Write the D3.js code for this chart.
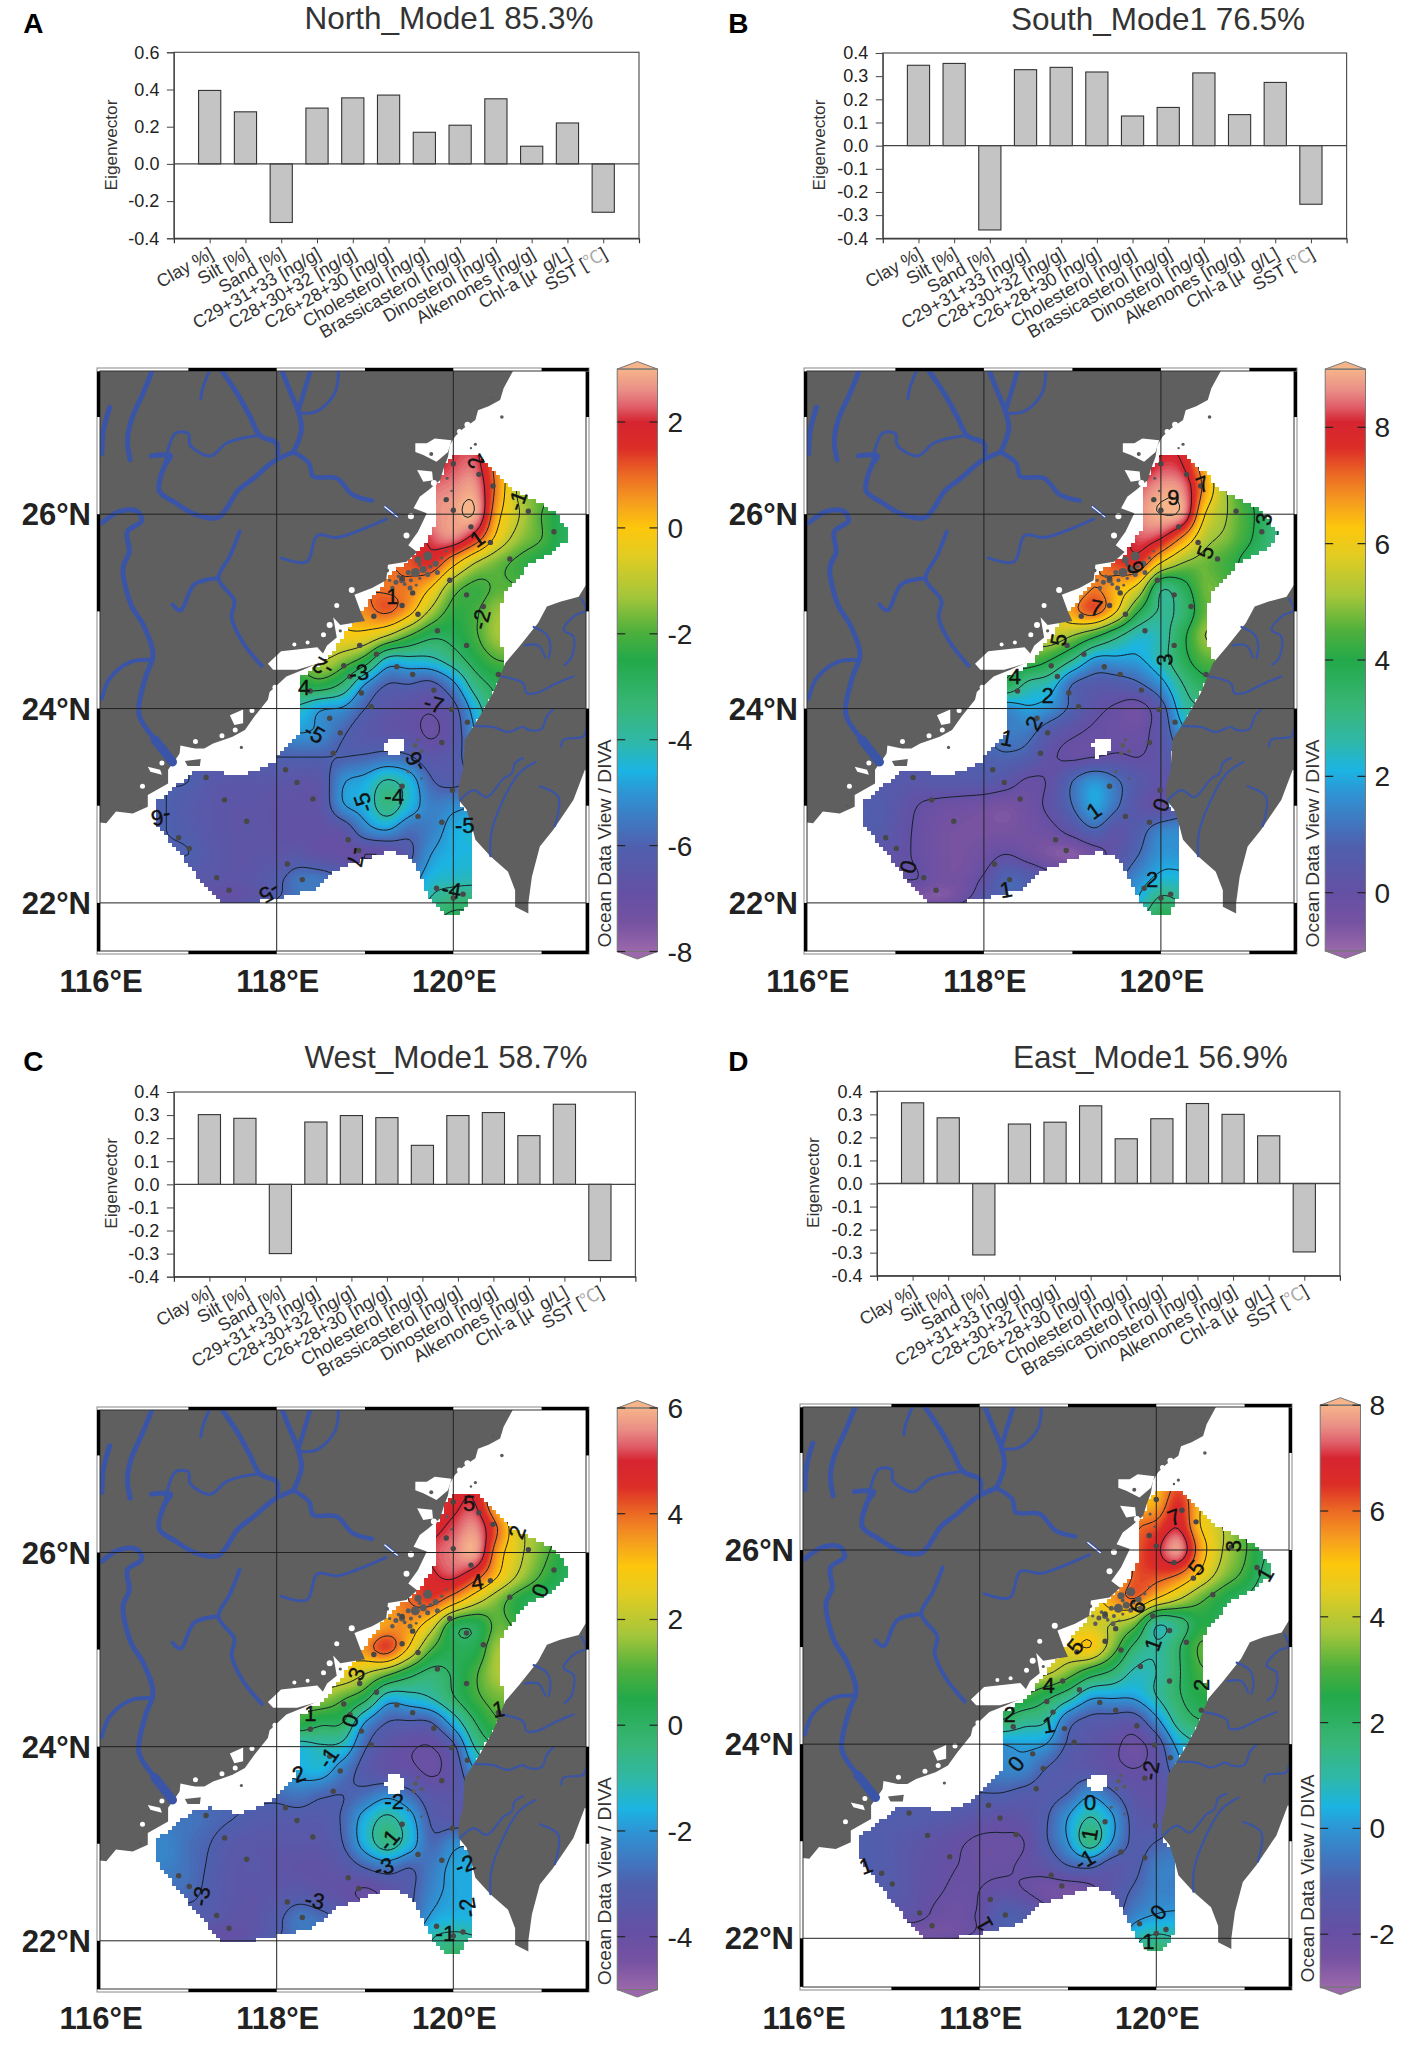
<!DOCTYPE html>
<html><head><meta charset="utf-8">
<script src="https://cdn.jsdelivr.net/npm/d3@7"></script>
<style>html,body{margin:0;background:#fff}svg{display:block}text{font-family:"Liberation Sans",Arial,sans-serif}</style>
</head><body><svg id="c" width="1417" height="2059"></svg>
<script>
// ---------- bar data ----------
const categories=["Clay %]","Silt [%]","Sand [%]","C29+31+33 [ng/g]","C28+30+32 [ng/g]","C26+28+30 [ng/g]","Cholesterol [ng/g]","Brassicasterol [ng/g]","Dinosterol [ng/g]","Alkenones [ng/g]","Chl-a [µ\u00a0\u00a0g/L]","SST ["];
const barsNorth=[0.395,0.28,-0.315,0.30,0.355,0.37,0.17,0.208,0.35,0.095,0.22,-0.26];
const barsSouth=[0.347,0.355,-0.364,0.328,0.338,0.318,0.128,0.165,0.314,0.134,0.273,-0.253];
const barsWest=[0.302,0.286,-0.30,0.27,0.298,0.289,0.169,0.298,0.311,0.211,0.347,-0.33];
const barsEast=[0.35,0.285,-0.31,0.258,0.266,0.337,0.194,0.281,0.347,0.30,0.207,-0.297];
const ticksNorth=[0.6,0.4,0.2,0,-0.2,-0.4];
const ticksOther=[0.4,0.3,0.2,0.1,0,-0.1,-0.2,-0.3,-0.4];
// ---------- field data: [first column index, values...] per row; lat 26.75→21.75, lon 116.5+0.25*i ----------
const fieldNorth=[
[13,1.8,2,2,0.5,-1],
[13,1.8,2.2,2.3,0.6,-1,-1.6,-2.4,-2.8],
[12,1.2,2.3,2.6,2.7,0.7,-1.2,-1.7,-2.4,-2.8],
[12,1.5,2.5,2.8,2.9,0.3,-1,-2,-2.8,-3],
[12,1.3,2.2,2.5,1.5,-0.3,-1.4,-2,-2.8,-3],
[11,1,1.2,1.6,0.3,-1,-1.7,-2.2,-2.6,-2.8,-3],
[9,0.8,1,0.9,0.8,0,-1.6,-2.2,-1.9,-2,-2.2],
[8,-0.2,0.2,0.7,1.1,0.3,-1.2,-2.3,-2.1,-1.4,-1.5],
[7,-0.8,-0.5,-0.2,-0.3,-1,-2,-2.8,-2.7,-2.1,-1.3,-1.4],
[7,-1.8,-1,-1.5,-2.4,-4.3,-4.3,-4.2,-3.5,-2.6,-2],
[7,-2.6,-2.4,-3.2,-5,-6,-6,-6.2,-5.2,-3.5,-2.8],
[7,-4.2,-4.9,-5.1,-6,-6.5,-6.7,-6.9,-6.3,-4.5,-3],
[6,-5.3,-5,-5.2,-5.9,-6.4,-6.6,-6.7,-7.1,-6.5,-5,-3.5],
[5,-6,-6,-6,-6,-6,-5.9,-5.7,-5.9,-6.5,-6.3,-5.5],
[2,-6,-6.4,-6.5,-6.5,-6.5,-6.6,-6.5,-5.1,-4.7,-3.9,-4.5,-5.9,-6.2,-5.8],
[1,-6,-6.3,-6.5,-6.6,-6.6,-6.7,-6.7,-6.6,-5.1,-4.6,-3.5,-4.5,-5.4,-5.2,-5],
[1,-6,-6.2,-6.5,-6.6,-6.6,-6.7,-6.8,-6.8,-6.6,-5.4,-5,-5.7,-5.4,-4.7,-4.5],
[2,-6,-6.4,-6.6,-6.6,-6.6,-6.5,-6.8,-6.9,-7,-6.9,-6.2,-5,-4.6,-4.5],
[3,-6.5,-6.6,-6.5,-6.2,-5.6,-5.6,-6,-6.2,-6,-5.5,-4.5,-4.3,-4.2],
[4,-6.6,-6.3,-5.8,-5.4,-5.4,-5.5,-5.6,-5.5,-5,-3.8,-3.3,-3.3],
[13,-3,-2.5,-2.5]];
const fieldSouth=[
[13,7.5,7.8,7.8,6.5,5],
[13,7.6,8.2,8,6.5,5,4.2,3.5,3],
[12,7.5,8.3,8.8,8.6,6.7,5,4,3.5,3],
[12,7.8,8.6,9,8.7,6,5,4.2,3.3,2.7],
[12,7.6,8.3,8,6.8,5.3,4.8,4.1,3.2,2.6],
[11,7,7.5,7.6,6,5,4.7,4.3,3.7,3.2,3],
[9,5.8,6.3,7,6.5,5.7,3.2,3.7,4.7,4.5,4.3],
[8,5,5.5,6.7,7.3,6,4,2.9,3.3,4.6,4.6],
[7,4.8,5.1,5.5,5,4.2,3.2,2.4,2.6,3.8,5,5],
[7,4.2,4.5,4,3,1.8,1.8,1.9,2.6,3.7,4.5],
[7,3.8,2.8,2.4,1,0.6,0.6,0.9,1.7,3,3.7],
[7,1.5,1.9,1.6,0.8,0.2,-0.1,-0.3,0.6,2.5,3],
[6,1,1.3,1.2,0.5,0.1,-0.1,-0.2,-0.2,0.4,1.8,2.5],
[5,0.7,0.8,0.9,0.7,0.1,-0.1,0,0.1,0,0.3,1,1.5],
[2,0.5,0.4,0.5,0.5,0.5,0.3,-0.1,0.1,1,1.7,1.1,0.5,0.2,0.5],
[1,0.7,0.4,0,-0.2,-0.3,-0.4,-0.5,-0.3,0.2,1,1.9,1.1,0.3,0.1,0.6],
[1,0.6,0.3,-0.1,-0.4,-0.5,-0.5,-0.5,-0.4,-0.2,0.3,0.9,0.3,0.7,1.4,1.5],
[2,0.2,-0.1,-0.4,-0.5,-0.3,0,-0.3,-0.6,-0.7,-0.3,0.3,1,1.7,1.7],
[3,0,-0.4,-0.4,0.1,0.9,0.7,0.3,0.2,0.3,0.8,1.6,2.2,2.2],
[4,-0.4,0,0.8,1.1,1,0.8,0.7,0.8,1.2,2.2,3.3,3],
[13,3.2,4,4]];
const fieldWest=[
[13,4.2,4.6,4.8,3,1.8],
[13,4.3,4.8,5,3,1.8,1.3,0.8,0.3],
[12,4,4.7,5.2,5.6,4,2.2,1.5,0.8,0.3],
[12,4.2,5.1,5.5,5.8,3.5,2.2,1.3,0.5,0],
[12,4,4.8,5.1,4.3,3,1.8,0.9,0.2,0],
[11,3.5,4,4.3,3.4,2.3,1.4,0.5,0.1,0,0],
[9,2.6,3,3.5,3.5,2.4,0.4,0.2,1.2,0.8,0.6],
[8,2,3,3.6,4.3,2.8,1,0.3,0.4,1.7,1.6],
[7,2,2.4,2.6,2,1.2,0.3,-0.3,0.1,0.9,1.8,1.8],
[7,1.3,1.6,1.1,0.3,-1.5,-1.4,-1,-0.1,0.8,1.3],
[7,0.7,0.2,0,-2,-3,-3.1,-3,-1.6,0,0.9],
[7,-1.4,-1.1,-1.3,-2.9,-3.6,-3.9,-4,-3.2,-0.9,0],
[6,-2,-1.7,-1.6,-2.5,-3.3,-3.7,-3.8,-4.1,-3.6,-2,-1],
[5,-2.8,-2.8,-2.6,-2.9,-3,-2.7,-2.2,-2.7,-3.5,-3.5,-3],
[2,-2.6,-2.8,-3,-3.2,-3.3,-3.3,-3.3,-2.9,-1.6,-0.8,-1.6,-3.1,-3.4,-3.2],
[1,-2.3,-2.7,-3,-3.4,-3.5,-3.5,-3.5,-3.5,-3,-1.6,-0.6,-1.5,-2.8,-2.2,-2],
[1,-2.4,-2.7,-3.1,-3.5,-3.5,-3.6,-3.7,-3.7,-3.5,-3,-2.6,-3,-2.5,-1.8,-1.7],
[2,-2.8,-3.2,-3.5,-3.6,-3.5,-3.4,-3.6,-3.8,-4.1,-3.8,-3.2,-2.3,-1.8,-1.7],
[3,-3.3,-3.6,-3.6,-3.2,-2.6,-2.8,-3.2,-3.5,-3.4,-3,-1.9,-1.6,-1.6],
[4,-3.7,-3.3,-2.9,-2.4,-2.4,-2.6,-2.8,-2.8,-2.3,-1,-0.6,-0.8],
[13,-0.8,0.3,0.2]];
const fieldEast=[
[13,4.8,5,6,5,3.5],
[13,5,5.3,6.5,5,3.5,3,2.2,1.4],
[12,4.5,5.8,6.2,6.9,5,4,3,2.2,1.4],
[12,5,6,6.8,7.7,5.5,4,3.1,2,1.2],
[12,4.6,6.1,6.3,6,4.8,3.6,2.8,1.7,1],
[11,4.5,5.5,6,5,4.1,3.2,2.5,2,1.5,1.2],
[9,4,4.2,4.3,4,3.4,1.2,1.6,2.5,2.3,2],
[8,3.5,4.5,4.6,5,3.5,1.8,1.1,1.9,3.1,3],
[7,3.2,4,4.2,3.5,2.6,1.9,0.9,1,1.9,2.9,2.9],
[7,2.6,2.9,2.3,1.5,0.3,0.2,0.2,1,1.9,2.5],
[7,2,1.4,1.1,-0.6,-1.2,-1.3,-1.4,-0.2,1.4,2],
[7,0,0.2,0,-1.1,-1.5,-1.8,-2.2,-1.5,0.3,1],
[6,-0.6,-0.3,-0.3,-1,-1.4,-1.5,-1.8,-2,-1.7,-0.4,0.4],
[5,-1,-1,-1,-1.2,-1.3,-1,-0.2,-0.9,-1.6,-1.7,-1.3],
[2,-1.1,-1.2,-1.3,-1.4,-1.6,-1.7,-1.6,-1.1,0,1,0.1,-1.3,-1.5,-1.2],
[1,-1.1,-1.3,-1.5,-1.7,-1.9,-2.1,-2.1,-2,-1.1,0,1.5,0,-1.2,-1,-0.7],
[1,-1.1,-1.3,-1.6,-1.8,-2,-2.1,-2.1,-1.9,-1.6,-1,-0.8,-1.4,-1.2,-0.5,-0.4],
[2,-1.3,-1.6,-1.9,-2.1,-2,-1.8,-2,-2.3,-2.4,-2.2,-1.5,-0.9,-0.4,-0.4],
[3,-1.7,-2.1,-2.2,-1.9,-1.1,-1.2,-1.7,-2,-1.9,-1.4,-0.4,0,0.1],
[4,-2.2,-2,-1.6,-0.9,-0.9,-1.1,-1.3,-1.3,-0.8,0.7,1.2,1],
[13,1.2,2.2,2]];
// ---------- contour labels: lon, lat, text, rotation ----------
const labelsNorth=[[120.25,26.54,"2",-120],[120.72,26.14,"-1",-70],[120.27,25.75,"1",-35],[119.31,25.16,"1",0],[120.31,24.92,"-2",-75],[118.93,24.37,"-3",-10],[118.52,24.42,"-2",-150],[118.31,24.22,"4",0],[118.43,23.75,"-5",30],[119.78,24.05,"-7",15],[119.57,23.45,"-6",-120],[119.33,23.10,"-4",0],[118.98,23.03,"-5",-110],[116.69,22.88,"-6",170],[118.90,22.47,"-7",100],[117.92,22.10,"-5",150],[120.13,22.80,"-5",0],[119.98,22.14,"-4",10]];
const labelsSouth=[[120.14,26.18,"9",0],[120.50,25.61,"5",-70],[121.16,25.95,"3",-80],[119.71,25.45,"6",-110],[119.27,25.04,"7",10],[118.84,24.71,"5",-80],[118.35,24.33,"4",0],[118.72,24.14,"2",0],[118.56,23.85,"2",-60],[118.26,23.70,"1",10],[120.04,24.50,"3",-95],[119.24,22.95,"1",-35],[120.0,23.01,"0",-70],[117.15,22.37,"0",105],[118.25,22.14,"1",-10],[119.90,22.24,"2",0],[120.47,26.31,"7",-20]];
const labelsWest=[[120.18,26.51,"5",0],[120.72,26.21,"2",-70],[120.27,25.70,"4",-10],[120.98,25.61,"0",-70],[118.90,24.75,"3",-70],[120.51,24.39,"1",-10],[118.38,24.35,"1",0],[118.83,24.27,"0",-70],[118.58,23.89,"-1",-55],[118.25,23.72,"2",-20],[119.33,23.44,"-2",0],[119.27,23.04,"-1",-50],[119.21,22.76,"-3",-20],[118.43,22.42,"-3",10],[117.14,22.46,"-3",-80],[120.13,22.79,"-2",-20],[120.16,22.34,"-2",-100],[119.91,22.08,"-1",0]];
const labelsEast=[[120.20,26.34,"7",-20],[120.87,26.04,"3",-90],[120.45,25.82,"5",-50],[121.23,25.75,"1",-60],[119.78,25.42,"6",-60],[119.08,25.01,"5",-50],[118.78,24.61,"4",0],[120.51,24.61,"2",-90],[118.34,24.31,"2",0],[118.78,24.20,"1",-10],[119.96,25.03,"1",-70],[118.41,23.80,"0",-50],[119.93,23.73,"-2",-80],[119.25,23.40,"0",0],[119.24,23.07,"1",-80],[119.19,22.81,"-1",-30],[120.02,22.27,"0",-50],[119.91,21.97,"1",0],[116.71,22.75,"1",-20],[118.05,22.14,"1",-120]];
// ---------- stations ----------
const stations=[[120.00,26.52],[120.29,26.41],[120.45,26.29],[119.92,26.15],[120.00,26.04],[120.20,25.87],[120.42,25.71],[120.85,26.03],[121.14,25.82],[120.64,25.54],[119.96,25.32],[120.15,25.17],[120.34,25.05],[119.60,24.97],[119.42,25.06],[119.54,25.19],[119.42,25.34],[119.10,24.95],[119.82,24.80],[120.15,24.65],[118.94,24.65],[119.13,24.56],[118.76,24.44],[118.83,24.33],[119.36,24.43],[119.54,24.35],[119.78,24.19],[120.51,24.35],[118.38,24.18],[118.96,24.16],[119.07,24.02],[119.98,23.99],[120.16,23.86],[118.60,23.90],[118.72,23.75],[119.87,23.65],[118.64,23.54],[118.10,23.37],[118.23,23.24],[118.41,23.07],[117.20,23.29],[117.41,23.06],[117.66,22.84],[116.89,22.67],[117.01,22.56],[117.32,22.26],[117.46,22.13],[118.12,22.40],[118.29,22.24],[118.81,22.65],[118.93,22.54],[119.60,22.89],[119.87,22.83],[119.99,23.16],[119.42,23.20],[119.81,22.15],[120.11,22.09],[120.00,22.05]];
// ---------- geography (lon, lat) ----------
const coastChina=[[120.68,27.6],[120.68,27.48],[120.57,27.295],[120.53,27.175],[120.40,27.11],[120.28,27.07],[120.25,26.97],[120.11,26.88],[120.02,26.80],[119.96,26.71],[119.94,26.59],[119.89,26.47],[119.85,26.35],[119.72,26.25],[119.62,26.18],[119.55,26.06],[119.70,26.01],[119.60,25.82],[119.49,25.68],[119.59,25.61],[119.47,25.51],[119.26,25.48],[119.24,25.32],[119.08,25.24],[118.88,25.17],[118.95,25.0],[119.0,24.9],[118.72,24.86],[118.64,24.94],[118.68,24.73],[118.57,24.65],[118.47,24.47],[118.30,24.40],[118.11,24.33],[117.92,24.17],[117.90,24.09],[117.75,23.92],[117.64,23.78],[117.50,23.71],[117.28,23.64],[117.18,23.59],[116.94,23.59],[116.88,23.51],[116.77,23.37],[116.77,23.23],[116.54,23.11],[116.54,22.99],[116.37,22.92],[116.18,22.94],[116.07,22.82],[115.9,22.84],[115.9,27.6]];
const coastTaiwan=[[121.50,25.27],[121.42,25.15],[121.21,25.10],[121.06,25.05],[120.96,24.88],[120.75,24.64],[120.59,24.47],[120.45,24.16],[120.30,23.92],[120.13,23.68],[120.11,23.37],[120.06,23.20],[120.06,23.06],[120.15,22.96],[120.21,22.79],[120.25,22.65],[120.42,22.48],[120.62,22.32],[120.70,22.13],[120.70,21.96],[120.85,21.89],[120.85,22.0],[120.89,22.27],[120.98,22.58],[121.13,22.75],[121.36,23.06],[121.49,23.37],[121.6,23.3],[121.6,25.3]];
const whiteBays=[
[[119.57,26.73],[119.70,26.73],[119.79,26.78],[119.98,26.76],[119.94,26.64],[119.81,26.54],[119.66,26.61],[119.57,26.64]],
[[119.59,26.455],[119.76,26.44],[119.77,26.35],[119.66,26.335]],
[[117.90,24.46],[118.05,24.59],[118.46,24.63],[118.55,24.54],[118.46,24.46],[118.23,24.40],[117.96,24.40]],
[[117.47,23.93],[117.62,23.99],[117.62,23.85],[117.52,23.83]],
[[116.91,23.62],[117.07,23.59],[116.99,23.49],[116.90,23.53]],
[[116.54,23.40],[116.68,23.37],[116.70,23.32],[116.57,23.35]]];
const islands=[[[116.96,23.46],[117.14,23.48],[117.13,23.41],[116.99,23.41]]];
const specks=[[119.60,25.53,3.5],[119.71,25.57,4.5],[119.80,25.49,3],[119.66,25.43,3.5],[119.57,25.40,4.5],[119.42,25.32,3],[119.51,25.24,2.5],[119.35,25.30,2.5],[119.49,25.40,2.5],[119.71,25.38,2.5],[119.82,25.40,2.5],[119.31,25.24,2.2],[119.91,26.14,1.6],[119.93,26.37,1.6],[119.98,26.24,1.2],[119.57,23.62,2.4],[119.64,23.56,2],[119.55,23.54,2],[119.60,23.68,1.6],[119.49,23.35,1.6],[119.64,23.28,1.2],
[119.62,25.48,2],[119.74,25.46,2],[119.52,25.32,2],[119.45,25.28,1.8],[119.38,25.36,1.8],[119.62,25.34,1.6],[119.28,25.32,1.6],[119.87,25.55,1.6],[119.92,25.62,1.2],[119.58,25.27,1.4],[120.45,27.2,1.4],[120.55,27.0,1.8],[120.25,26.72,1.6],[120.2,26.68,1.2],[119.75,26.62,2],[119.25,25.42,2],[118.72,24.8,1.6],[117.6,23.6,1.6],[116.45,23.0,1.4]];
const whiteSpecks=[[120.33,26.98,3],[120.16,26.92,3],[120.07,26.85,2.5],[119.78,26.32,3],[119.52,25.98,3],[119.47,25.78,3],[118.85,25.22,3],[118.68,25.06,2.5],[118.60,24.86,3],[118.53,24.76,2.5],[117.98,24.22,2.5],[117.72,23.98,2.5],[117.53,23.78,2.5],[117.38,23.72,2.5],[117.08,23.66,2.5],[116.70,23.44,2.5],[116.48,23.2,2.5],[118.2,24.66,2],[118.35,24.68,2]];
const fieldOutline=[[120.00,26.59],[120.29,26.59],[120.47,26.45],[120.58,26.35],[120.69,26.24],[120.83,26.18],[121.14,26.03],[121.32,25.82],[121.30,25.74],[121.14,25.61],[120.87,25.49],[120.58,25.19],[120.54,25.07],[120.54,24.65],[120.59,24.52],[120.59,24.40],[120.51,24.27],[120.34,23.98],[120.20,23.73],[120.11,23.47],[120.09,22.97],[120.20,22.93],[120.20,22.05],[120.07,21.86],[119.91,21.86],[119.75,22.03],[119.53,22.45],[119.31,22.53],[119.13,22.49],[118.68,22.34],[118.41,22.13],[118.01,22.05],[117.70,22.00],[117.38,22.00],[117.11,22.26],[116.62,22.84],[116.62,23.03],[117.07,23.35],[117.25,23.37],[117.56,23.31],[117.74,23.35],[117.96,23.45],[118.25,23.75],[118.25,24.31],[118.55,24.48],[118.68,24.65],[118.99,25.03],[119.31,25.40],[119.57,25.57],[119.71,25.74],[119.82,25.91],[119.82,26.29],[119.91,26.50]];
const fieldHole=[[119.22,23.62],[119.27,23.70],[119.40,23.70],[119.45,23.62],[119.40,23.52],[119.27,23.50]];
const rivers=[
[[116.60,27.5],[116.49,27.25],[116.35,26.96],[116.31,26.75],[116.34,26.56]],
[[117.36,27.5],[117.56,27.23],[117.70,27.00],[117.81,26.81],[118.0,26.73],[118.01,26.62]],
[[118.05,27.5],[118.14,27.29],[118.25,27.04],[118.28,26.87],[118.19,26.64]],
[[118.39,27.5],[118.25,27.08]],
[[118.19,26.64],[117.96,26.54],[117.74,26.37],[117.56,26.24],[117.34,25.97],[117.07,26.0],[116.85,26.12],[116.67,26.24],[116.73,26.50],[116.80,26.60],[116.58,26.60]],
[[118.19,26.64],[118.37,26.52],[118.41,26.39],[118.68,26.37],[118.86,26.20],[119.08,26.14]],
[[116.11,27.10],[116.04,26.87],[116.02,26.62]],
[[116.02,25.91],[116.22,26.03],[116.42,26.03],[116.47,25.93],[116.31,25.82],[116.33,25.61],[116.26,25.45],[116.35,25.07],[116.49,24.86],[116.60,24.56],[116.51,24.31],[116.44,23.94],[116.62,23.68],[116.82,23.45]],
[[116.02,24.10],[116.11,24.31],[116.35,24.48],[116.60,24.50]],
[[117.58,25.82],[117.47,25.57],[117.34,25.34],[117.52,25.11],[117.49,24.94],[117.61,24.69],[117.83,24.44]],
[[117.34,25.34],[117.07,25.28],[116.91,25.01],[116.82,25.07]],
[[116.62,23.68],[116.82,23.45]],
[[118.70,27.5],[118.66,27.25],[118.46,27.06],[118.28,27.04]],
[[117.25,27.5],[117.16,27.29],[117.14,27.19]],
[[116.73,26.50],[116.85,26.83],[117.0,26.83],[117.02,26.71],[117.25,26.60],[117.43,26.73],[117.65,26.79],[117.81,26.81]],
[[119.24,25.95],[118.90,25.82],[118.68,25.76],[118.46,25.78],[118.34,25.51],[118.05,25.55]],
[[121.45,25.13],[121.50,25.01],[121.38,24.96],[121.25,24.81],[121.36,24.74],[121.34,24.53],[121.26,24.45]],
[[120.91,24.84],[121.06,24.76],[121.10,24.64],[121.08,24.52]],
[[120.81,24.65],[120.96,24.65],[121.04,24.53]],
[[120.55,24.33],[120.79,24.26],[120.83,24.16],[120.94,24.16],[121.17,24.26],[121.36,24.33]],
[[120.25,23.82],[120.45,23.81],[120.62,23.76],[120.79,23.81],[120.85,23.78],[121.0,23.79],[121.06,23.92],[121.13,23.99]],
[[121.22,23.61],[121.25,23.68],[121.47,23.71],[121.50,23.78]],
[[120.08,23.06],[120.23,23.16],[120.38,23.09],[120.57,23.28],[120.66,23.33],[120.70,23.44],[120.79,23.49]],
[[120.42,22.48],[120.43,22.72],[120.55,23.03],[120.74,23.33],[120.93,23.45]],
[[120.98,23.20],[121.19,23.09],[121.15,22.79]]];
const riverWidths=[5,5,5,4.5,5,4.5,5,5,4,4,4,9,3,3,3,3,2.2,2.2,2.2,2.2,2.2,2.2,2.2,2.2,2.2];
const estuary=[[119.22,26.08],[119.37,25.97]];
// ---------- palette ----------
const paletteStops=[0,.05,.1,.18,.27,.31,.36,.42,.5,.55,.61,.68,.727,.773,.818,.864,.909,.936,.964,1];
const paletteColors=["#9b68ab","#7552a2","#6450a4","#4f60ae","#2f93d4","#1bb4e3","#2fb8a8","#38b678","#23a94a","#4fb03c","#a5c63a","#e2cc22","#fdc70c","#f59b1f","#ec6a24","#dc2d27","#d62530","#e0606b","#ea8f86","#f6b48a"];
// ---------- panel geometry ----------
const panels=[
{id:"A",title:"North_Mode1 85.3%",letter:[33.4,22.7],titleX:449,titleY:29.3,bars:barsNorth,yTicks:ticksNorth,yDom:[-0.4,0.6],
 plot:[173.9,639,52.3,238.3],eigX:110.6,eigY:145,lon:[276.7,453.3],lat:[514.2,902.9],field:fieldNorth,labels:labelsNorth,range:[-8,3],cbX:617.2,cbTicks:[2,0,-2,-4,-6,-8],cbY:[422,2,951.5,-8],cbLabelX:667.4,odvX:605.3,odvY:947.4,xLabY:992},
{id:"B",title:"South_Mode1 76.5%",letter:[738.3,22.7],titleX:1158,titleY:30,bars:barsSouth,yTicks:ticksOther,yDom:[-0.4,0.4],
 plot:[882.8,1346.6,53,238.3],eigX:819,eigY:145,lon:[983.9,1160.9],lat:[514.2,902.9],field:fieldSouth,labels:labelsSouth,range:[-1,9],cbX:1325.2,cbTicks:[8,6,4,2,0],cbY:[427.3,8,892.7,0],cbLabelX:1374.6,odvX:1312.6,odvY:947.4,xLabY:992},
{id:"C",title:"West_Mode1 58.7%",letter:[33.4,1060.7],titleX:446,titleY:1068.3,bars:barsWest,yTicks:ticksOther,yDom:[-0.4,0.4],
 plot:[173.9,635.4,1092,1276.7],eigX:110.6,eigY:1183.3,lon:[276.7,453.3],lat:[1552.5,1940.8],field:fieldWest,labels:labelsWest,range:[-5,6],cbX:617.2,cbTicks:[6,4,2,0,-2,-4],cbY:[1408,6,1936.7,-4],cbLabelX:667.4,odvX:605.3,odvY:1985.2,xLabY:2029},
{id:"D",title:"East_Mode1 56.9%",letter:[738.3,1060.7],titleX:1150.4,titleY:1068.3,bars:barsEast,yTicks:ticksOther,yDom:[-0.4,0.4],
 plot:[877,1339.9,1091.3,1275.7],eigX:812.8,eigY:1182.7,lon:[979.7,1156.3],lat:[1550,1938.3],field:fieldEast,labels:labelsEast,range:[-3,8],cbX:1320.2,cbTicks:[8,6,4,2,0,-2],cbY:[1405.2,8,1934.2,-2],cbLabelX:1369.6,odvX:1307.6,odvY:1982.4,xLabY:2029}];

const svg=d3.select("#c");
function catmull(p0,p1,p2,p3,t){return 0.5*((2*p1)+(-p0+p2)*t+(2*p0-5*p1+4*p2-p3)*t*t+(-p0+3*p1-3*p2+p3)*t*t*t);}
function expandField(rows){
  const n=21,grid=rows.map(r=>{const s=r[0],v=r.slice(1),o=[];for(let i=0;i<n;i++){o.push(i<s?v[0]:(i-s<v.length?v[i-s]:v[v.length-1]));}return o;});
  const k=6,m=(n-1)*k+1,at=(a,i)=>a[Math.max(0,Math.min(n-1,i))];
  const tmp=grid.map(row=>{const o=[];for(let i=0;i<m;i++){const f=i/k,a=Math.floor(f),t=f-a;o.push(catmull(at(row,a-1),at(row,a),at(row,a+1),at(row,a+2),t));}return o;});
  const out=new Float64Array(m*m);
  for(let c=0;c<m;c++)for(let j=0;j<m;j++){const f=j/k,a=Math.floor(f),t=f-a;
    out[j*m+c]=catmull(at(tmp,a-1)[c],at(tmp,a)[c],at(tmp,a+1)[c],at(tmp,a+2)[c],t);}
  return {values:out,m,k};
}
const gridLon0=116.5,gridLat0=26.75,gridStep=0.25;
const defs=svg.append("defs");

panels.forEach(p=>{
  const g=svg.append("g").attr("id","panel"+p.id);
  g.append("text").attr("x",p.letter[0]).attr("y",p.letter[1]+10).attr("text-anchor","middle").attr("font-size",28).attr("font-weight","bold").attr("fill","#000").text(p.id);
  g.append("text").attr("x",p.titleX).attr("y",p.titleY).attr("text-anchor","middle").attr("font-size",31.5).attr("fill","#333").text(p.title);
  // ----- bar chart -----
  const [L,R,T,B]=p.plot;
  const y=d3.scaleLinear().domain(p.yDom).range([B,T]);
  const x=d3.scalePoint().domain(categories).range([L,R]).padding(1);
  g.append("rect").attr("x",L).attr("y",T).attr("width",R-L).attr("height",B-T).attr("fill","#fff").attr("stroke","#555").attr("stroke-width",1.2);
  g.selectAll(".bar").data(p.bars).join("rect").attr("class","bar")
    .attr("x",(d,i)=>x(categories[i])-11.1).attr("width",22.2)
    .attr("y",d=>y(Math.max(0,d))).attr("height",d=>Math.abs(y(d)-y(0)))
    .attr("fill","#c4c4c4").attr("stroke","#333").attr("stroke-width",1.1);
  g.append("line").attr("x1",L).attr("x2",R).attr("y1",y(0)).attr("y2",y(0)).attr("stroke","#444").attr("stroke-width",1.3);
  const axL=g.append("g").attr("transform",`translate(${L},0)`).call(d3.axisLeft(y).tickValues(p.yTicks).tickFormat(v=>v.toFixed(1)).tickSize(7));
  axL.select(".domain").attr("stroke","#444");
  axL.selectAll(".tick line").attr("stroke","#444");
  axL.selectAll(".tick text").attr("font-size",18).attr("fill","#222").attr("x",-14.5).style("font-family",'"Liberation Sans",Arial,sans-serif');
  const axB=g.append("g").attr("transform",`translate(0,${B})`).call(d3.axisBottom(x).tickSize(5).tickFormat(""));
  axB.select(".domain").attr("stroke","#333").attr("stroke-width",1.2);
  axB.selectAll(".tick line").attr("stroke","#444");
  categories.forEach(c=>{
    const t=g.append("text").attr("transform",`translate(${x(c)+5},${B+19}) rotate(-30)`)
      .attr("text-anchor","end").attr("font-size",18).attr("fill","#333");
    t.append("tspan").text(c);
    if(c==="SST ["){t.append("tspan").attr("fill","#aaa").style("font-family",'"Noto Sans CJK SC"').text("℃");t.append("tspan").text("]");}
  });
  g.append("text").attr("transform",`translate(${p.eigX+6},${p.eigY}) rotate(-90)`).attr("text-anchor","middle").attr("font-size",17.2).attr("fill","#333").text("Eigenvector");

  // ----- map -----
  const mx=d3.scaleLinear().domain([118,120]).range(p.lon);
  const my=d3.scaleLinear().domain([26,22]).range(p.lat);
  const X0=Math.round(mx(116)),X1=Math.round(mx(121.5)),Y0=Math.round(my(27.47)),Y1=Math.round(my(21.5));
  const clipId="mapclip"+p.id,maskId="fieldclip"+p.id;
  defs.append("clipPath").attr("id",clipId).append("rect").attr("x",X0).attr("y",Y0).attr("width",X1-X0).attr("height",Y1-Y0);
  const outlinePx=fieldOutline.map(d=>[mx(d[0]),my(d[1])]);
  const holePx=fieldHole.map(d=>[mx(d[0]),my(d[1])]);
  const cp=defs.append("clipPath").attr("id",maskId),cell=4;
  for(let py=Y0;py<Y1;py+=cell){
    let start=null;
    for(let px=X0;px<=X1;px+=cell){
      const c=[px+cell/2,py+cell/2];
      const inside=px<X1&&d3.polygonContains(outlinePx,c)&&!d3.polygonContains(holePx,c);
      if(inside&&start===null)start=px;
      if(!inside&&start!==null){cp.append("rect").attr("x",start).attr("y",py).attr("width",px-start).attr("height",cell);start=null;}
    }
  }
  const map=g.append("g").attr("clip-path",`url(#${clipId})`);
  map.append("rect").attr("x",X0).attr("y",Y0).attr("width",X1-X0).attr("height",Y1-Y0).attr("fill","#fff");
  const color=d3.scaleLinear().domain(paletteStops.map(t=>p.range[0]+t*(p.range[1]-p.range[0]))).range(paletteColors).clamp(true);
  const f=expandField(p.field);
  const tr=d3.geoTransform({point(gx,gy){
    const lon=gridLon0+(gx-.5)/f.k*gridStep,lat=gridLat0-(gy-.5)/f.k*gridStep;
    this.stream.point(mx(lon),my(lat));}});
  const path=d3.geoPath(tr);
  const fieldG=map.append("g").attr("clip-path",`url(#${maskId})`);
  fieldG.append("rect").attr("x",X0).attr("y",Y0).attr("width",X1-X0).attr("height",Y1-Y0).attr("fill",color(p.range[0]));
  const step=0.08,bands=d3.range(p.range[0]-1,p.range[1]+0.5,step);
  const cont=d3.contours().size([f.m,f.m]).smooth(true);
  fieldG.selectAll(".band").data(bands).join("path").attr("class","band")
    .attr("d",t=>path(cont.contour(f.values,t))).attr("fill",t=>color(t+step/2));
  const lev=d3.range(Math.ceil(p.range[0]),Math.floor(p.range[1])+1);
  fieldG.selectAll(".iso").data(lev).join("path").attr("class","iso")
    .attr("d",t=>path(cont.contour(f.values,t))).attr("fill","none").attr("stroke","#15202a").attr("stroke-width",1);
  const poly=d3.line().x(d=>mx(d[0])).y(d=>my(d[1])).curve(d3.curveLinearClosed);
  const rline=d3.line().x(d=>mx(d[0])).y(d=>my(d[1])).curve(d3.curveCatmullRom);
  map.append("path").attr("d",poly(coastChina)).attr("fill","#5f5f5f");
  map.append("path").attr("d",poly(coastTaiwan)).attr("fill","#5f5f5f");
  map.selectAll(".bay").data(whiteBays).join("path").attr("class","bay").attr("d",poly).attr("fill","#fff");
  map.selectAll(".wsp").data(whiteSpecks).join("circle").attr("class","wsp").attr("cx",d=>mx(d[0])).attr("cy",d=>my(d[1])).attr("r",d=>d[2]).attr("fill","#fff");
  map.selectAll(".isl").data(islands).join("path").attr("class","isl").attr("d",poly).attr("fill","#5f5f5f");
  map.selectAll(".spk").data(specks).join("circle").attr("class","spk").attr("cx",d=>mx(d[0])).attr("cy",d=>my(d[1])).attr("r",d=>d[2]).attr("fill","#5a5a5a");
  map.selectAll(".riv").data(rivers).join("path").attr("class","riv").attr("d",rline).attr("fill","none")
    .attr("stroke","#3a55a8").attr("stroke-width",(d,i)=>riverWidths[i]).attr("stroke-linecap","round").attr("stroke-linejoin","round");
  map.append("path").attr("d",rline(estuary)).attr("stroke","#3a55a8").attr("stroke-width",3.5).attr("fill","none");
  map.append("path").attr("d",rline(estuary)).attr("stroke","#fff").attr("stroke-width",1.2).attr("fill","none");
  [118,120].forEach(l=>map.append("line").attr("x1",mx(l)).attr("x2",mx(l)).attr("y1",Y0).attr("y2",Y1).attr("stroke","#222").attr("stroke-width",1));
  [26,24,22].forEach(l=>map.append("line").attr("x1",X0).attr("x2",X1).attr("y1",my(l)).attr("y2",my(l)).attr("stroke","#222").attr("stroke-width",1));
  map.selectAll(".st").data(stations).join("circle").attr("class","st").attr("cx",d=>mx(d[0])).attr("cy",d=>my(d[1])).attr("r",2.7).attr("fill","#474747");
  map.selectAll(".cl").data(p.labels).join("text").attr("class","cl")
    .attr("transform",d=>`translate(${mx(d[0])},${my(d[1])}) rotate(${d[3]})`).attr("text-anchor","middle").attr("dy","0.36em")
    .attr("font-size",22).attr("fill","#111").attr("stroke","#111").attr("stroke-width",0.4).text(d=>d[2]);
  const band=3;
  g.append("rect").attr("x",X0-band).attr("y",Y0-band).attr("width",X1-X0+2*band).attr("height",Y1-Y0+2*band).attr("fill","none").attr("stroke","#888").attr("stroke-width",1);
  g.append("rect").attr("x",X0).attr("y",Y0).attr("width",X1-X0).attr("height",Y1-Y0).attr("fill","none").attr("stroke","#333").attr("stroke-width",1);
  [[117,118],[119,120],[121,121.5]].forEach(s=>{
    [Y0-band,Y1].forEach(yy=>g.append("rect").attr("x",mx(s[0])).attr("y",yy).attr("width",mx(s[1])-mx(s[0])+(s[1]==121.5?band:0)).attr("height",band).attr("fill","#000"));
  });
  [[27.47,27],[26,25],[24,23],[22,21.5]].forEach(s=>{
    [X0-band,X1].forEach(xx=>g.append("rect").attr("x",xx).attr("y",my(s[0])).attr("width",band).attr("height",my(s[1])-my(s[0])).attr("fill","#000"));
  });
  [116,118,120].forEach(l=>g.append("text").attr("x",mx(l)+1).attr("y",p.xLabY).attr("text-anchor","middle").attr("font-size",31).attr("font-weight","bold").attr("fill","#222").text(l+"°E"));
  [26,24,22].forEach(l=>g.append("text").attr("x",X0-9).attr("y",my(l)+11).attr("text-anchor","end").attr("font-size",31).attr("font-weight","bold").attr("fill","#222").text(l+"°N"));
  // ----- colour bar -----
  const cb=d3.scaleLinear().domain([p.cbY[1],p.cbY[3]]).range([p.cbY[0],p.cbY[2]]);
  const cbW=40.3,cT=cb(p.range[1]),cB=cb(p.range[0]),tip=7.5;
  d3.range(Math.floor(cT),Math.ceil(cB)).forEach(py=>{
    g.append("rect").attr("x",p.cbX).attr("y",py).attr("width",cbW).attr("height",1.4).attr("fill",color(cb.invert(py+.5)));
  });
  g.append("path").attr("d",`M${p.cbX},${cT}L${p.cbX+cbW/2},${cT-tip}L${p.cbX+cbW},${cT}Z`).attr("fill",color(p.range[1])).attr("stroke","#777");
  g.append("path").attr("d",`M${p.cbX},${cB}L${p.cbX+cbW/2},${cB+tip}L${p.cbX+cbW},${cB}Z`).attr("fill",color(p.range[0])).attr("stroke","#777");
  g.append("rect").attr("x",p.cbX).attr("y",cT).attr("width",cbW).attr("height",cB-cT).attr("fill","none").attr("stroke","#777");
  p.cbTicks.forEach(t=>{
    g.append("line").attr("x1",p.cbX).attr("x2",p.cbX+8).attr("y1",cb(t)).attr("y2",cb(t)).attr("stroke","#222").attr("stroke-width",1.2);
    g.append("line").attr("x1",p.cbX+cbW-8).attr("x2",p.cbX+cbW).attr("y1",cb(t)).attr("y2",cb(t)).attr("stroke","#222").attr("stroke-width",1.2);
    g.append("text").attr("x",p.cbLabelX).attr("y",cb(t)+10).attr("font-size",28).attr("fill","#222").text(t);
  });
  g.append("text").attr("transform",`translate(${p.odvX+6},${p.odvY}) rotate(-90)`).attr("font-size",18.5).attr("fill","#333")
    .attr("textLength",208).attr("lengthAdjust","spacingAndGlyphs").text("Ocean Data View / DIVA");
});
</script></body></html>
